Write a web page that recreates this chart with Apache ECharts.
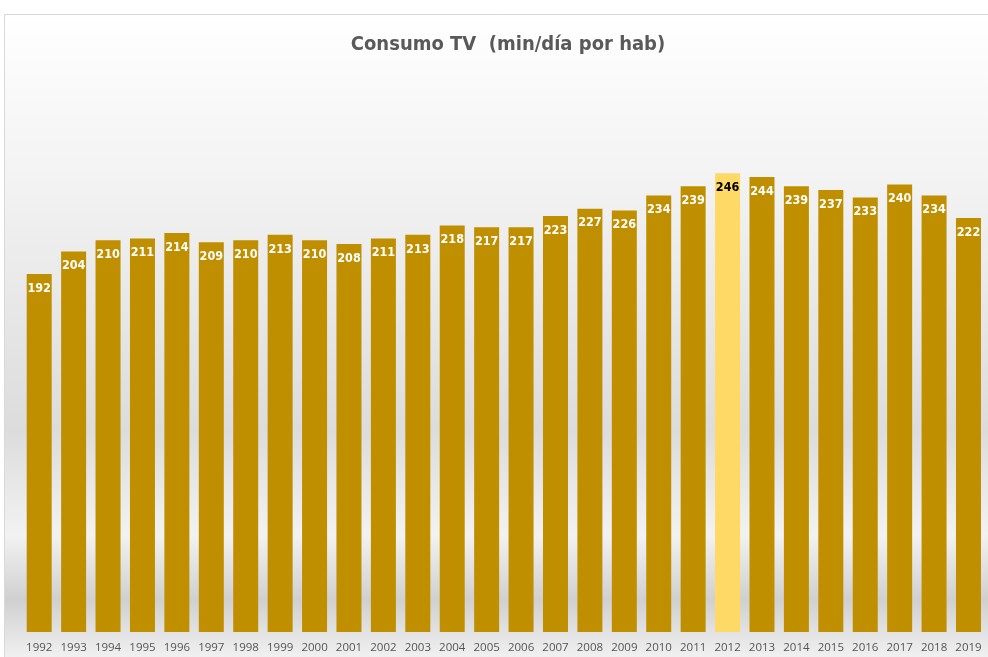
<!DOCTYPE html>
<html><head><meta charset="utf-8">
<script src="https://cdn.jsdelivr.net/npm/echarts@6/dist/echarts.min.js"></script>
<style>html,body{margin:0;padding:0;background:#fff}#c{width:988px;height:657px}</style>
</head><body><div id="c"></div>
<script>
const years = ['1992','1993','1994','1995','1996','1997','1998','1999','2000','2001','2002','2003','2004','2005','2006','2007','2008','2009','2010','2011','2012','2013','2014','2015','2016','2017','2018','2019'];
const minutes = [192,204,210,211,214,209,210,213,210,208,211,213,218,217,217,223,227,226,234,239,246,244,239,237,233,240,234,222];
const highlightYear = '2012';

const FONT = '"DejaVu Sans Condensed","Liberation Sans",sans-serif';
const chart = echarts.init(document.getElementById('c'), null, {renderer:'canvas'});
const data = minutes.map((v,i)=>{
  const hi = years[i]===highlightYear;
  return {value:v, itemStyle:{color: hi ? '#FFD966' : '#BF8F00'},
    label:{color: hi ? '#000000' : '#ffffff'}};
});
chart.setOption({
  animation:false,
  graphic:[{
    type:'rect', z:-10, silent:true,
    shape:{x:4.5,y:14.5,width:990,height:650},
    style:{
      fill:new echarts.graphic.LinearGradient(0,0,0,1,[
        {offset:0,color:'#ffffff'},
        {offset:0.25,color:'#f3f3f3'},
        {offset:0.64,color:'#dcdcdc'},
        {offset:0.8,color:'#f2f2f2'},
        {offset:0.9,color:'#d0d0d0'},
        {offset:1,color:'#f5f5f5'}
      ]),
      stroke:'#d9d9d9', lineWidth:1
    }
  }],
  title:{
    text:'Consumo TV  (min/día por hab)', left:503, top:30, textAlign:'center',
    textStyle:{fontFamily:FONT, fontWeight:'bold', fontSize:20, color:'#595959'}
  },
  grid:{left:22, right:2.3, top:72.5, bottom:25, containLabel:false},
  xAxis:{
    type:'category', data:years,
    axisLine:{show:false}, axisTick:{show:false},
    axisLabel:{color:'#555555', fontSize:11.5, margin:10, fontFamily:'"Open Sans","Liberation Sans",sans-serif', interval:0}
  },
  yAxis:{type:'value', min:0, max:300, show:false, splitLine:{show:false}},
  series:[{
    type:'bar', data:data, barWidth:25,
    label:{show:true, position:'insideTop', distance:8, fontFamily:FONT, fontWeight:'bold', fontSize:12.5}
  }]
});
</script></body></html>
